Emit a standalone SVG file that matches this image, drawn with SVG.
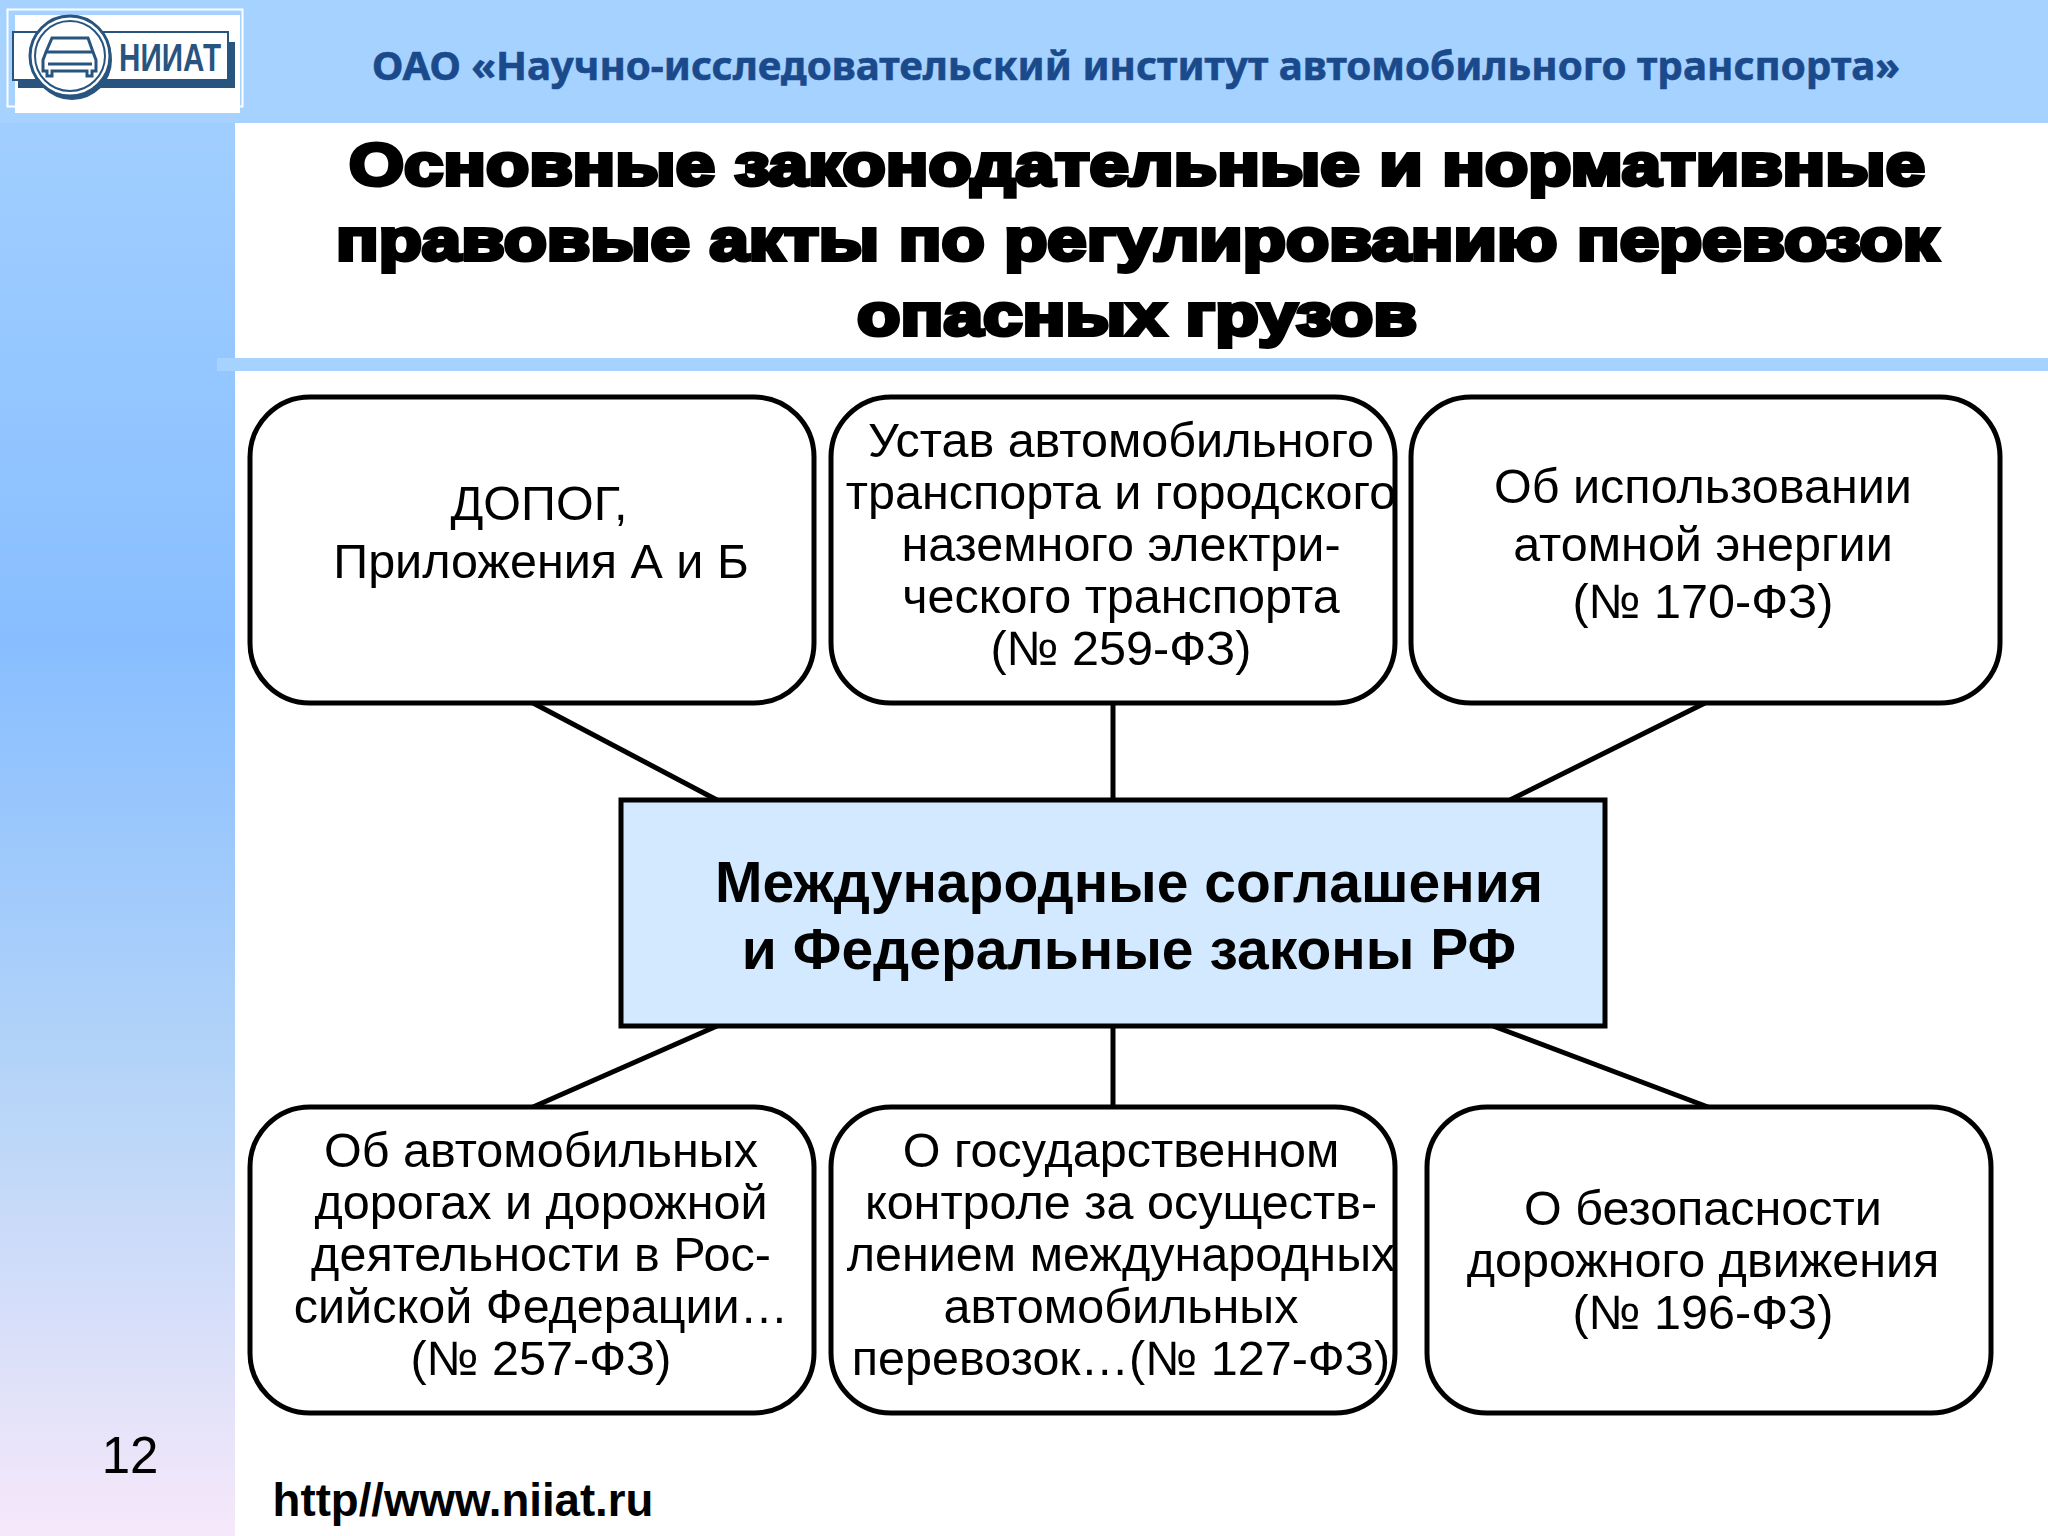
<svg xmlns="http://www.w3.org/2000/svg" width="2048" height="1536" viewBox="0 0 2048 1536">
<defs>
<linearGradient id="side" x1="0" y1="0" x2="0" y2="1">
<stop offset="0" stop-color="#a6d2ff"/><stop offset="0.42" stop-color="#88beff"/><stop offset="0.7" stop-color="#b4d4f8"/><stop offset="1" stop-color="#f6e8fa"/>
</linearGradient>
</defs>
<style>
text{font-family:"Liberation Sans",Arial,sans-serif;fill:#000;text-anchor:middle}
.b{fill:#fff;stroke:#000;stroke-width:5}
.c{fill:none;stroke:#000;stroke-width:5}
.t{font-size:48.500px}
.h{font-family:"Liberation Sans",sans-serif;font-weight:bold;font-size:60px;stroke:#000;stroke-width:4px}
.m{font-weight:bold;font-size:57px}
.l{fill:none;stroke:#28557f}
.lf{fill:#28557f}
</style>
<rect width="2048" height="1536" fill="#fff"/>
<rect x="0" y="0" width="235" height="1536" fill="url(#side)"/>
<rect x="0" y="0" width="2048" height="123" fill="#a6d2ff"/>
<rect x="217" y="358" width="1831" height="13" fill="#a6d2ff"/>
<g id="logo">
<rect x="7.500" y="9.500" width="235" height="97" fill="none" stroke="#fff" stroke-width="2"/>
<rect x="15" y="15" width="225" height="98" fill="#fff"/>
<rect x="18" y="42" width="217" height="46" class="lf"/>
<rect x="13" y="32" width="215" height="48" fill="#fff" stroke="#28557f" stroke-width="2"/>
<circle cx="72" cy="60" r="40" class="lf"/>
<circle cx="70" cy="56" r="40" fill="#fff" stroke="#28557f" stroke-width="3"/>
<circle cx="70" cy="56" r="35" class="l" stroke-width="2"/>
<path d="M52 38h36l5 14l3 8v11h-4v5h-5v-5H52v5h-5v-5h-4V60l3-8z" class="l" stroke-width="3"/>
<path d="M47 52h46M48 64h44" class="l" stroke-width="3"/>
<text x="170" y="71" style="font-size:38px;font-weight:bold;fill:#28557f" textLength="102" lengthAdjust="spacingAndGlyphs">НИИАТ</text>
</g>
<text id="org" x="1136" y="80" textLength="1528" lengthAdjust="spacingAndGlyphs" style="font-family:'Noto Sans',sans-serif;font-weight:bold;font-size:40px;fill:#1a4a8c;stroke:#1a4a8c;stroke-width:.6px">ОАО «Научно-исследовательский институт автомобильного транспорта»</text>
<g id="title">
<text class="h" x="1137" y="185" textLength="1576" lengthAdjust="spacingAndGlyphs">Основные законодательные и нормативные</text>
<text class="h" x="1137" y="260" textLength="1602" lengthAdjust="spacingAndGlyphs">правовые акты по регулированию перевозок</text>
<text class="h" x="1137" y="335" textLength="560" lengthAdjust="spacingAndGlyphs">опасных грузов</text>
</g>
<g id="connectors">
<path class="c" d="M533 703L717 800M1113 703V800M1705 703L1510 800M717 1026L533 1107M1113 1026V1107M1493 1026L1708 1107"/>
</g>
<g id="n1"><rect class="b" x="250" y="397" width="564" height="306" rx="60"/>
<text class="t" x="539" y="520">ДОПОГ,</text><text class="t" x="541" y="578">Приложения А и Б</text></g>
<g id="n2"><rect class="b" x="831" y="397" width="564" height="306" rx="60"/>
<text class="t" x="1121" y="457">Устав автомобильного</text><text class="t" x="1121" y="509">транспорта и городского</text><text class="t" x="1121" y="561">наземного электри-</text><text class="t" x="1121" y="613">ческого транспорта</text><text class="t" x="1121" y="665">(№ 259-ФЗ)</text></g>
<g id="n3"><rect class="b" x="1411" y="397" width="589" height="306" rx="60"/>
<text class="t" x="1703" y="503">Об использовании</text><text class="t" x="1703" y="561">атомной энергии</text><text class="t" x="1703" y="618">(№ 170-ФЗ)</text></g>
<g id="center"><rect x="621" y="800" width="984" height="226" fill="#d2e9ff" stroke="#000" stroke-width="5"/>
<text class="m" x="1129" y="902">Международные соглашения</text><text class="m" x="1129" y="969">и Федеральные законы РФ</text></g>
<g id="n4"><rect class="b" x="250" y="1107" width="564" height="306" rx="60"/>
<text class="t" x="541" y="1167">Об автомобильных</text><text class="t" x="541" y="1219">дорогах и дорожной</text><text class="t" x="541" y="1271">деятельности в Рос-</text><text class="t" x="541" y="1323">сийской Федерации…</text><text class="t" x="541" y="1375">(№ 257-ФЗ)</text></g>
<g id="n5"><rect class="b" x="831" y="1107" width="564" height="306" rx="60"/>
<text class="t" x="1121" y="1167">О государственном</text><text class="t" x="1121" y="1219">контроле за осуществ-</text><text class="t" x="1121" y="1271">лением международных</text><text class="t" x="1121" y="1323">автомобильных</text><text class="t" x="1121" y="1375">перевозок…(№ 127-ФЗ)</text></g>
<g id="n6"><rect class="b" x="1427" y="1107" width="564" height="306" rx="60"/>
<text class="t" x="1703" y="1225">О безопасности</text><text class="t" x="1703" y="1277">дорожного движения</text><text class="t" x="1703" y="1329">(№ 196-ФЗ)</text></g>
<text x="130" y="1473" style="font-size:51px">12</text>
<text x="463" y="1516" style="font-size:45.600px;font-weight:bold">http//www.niiat.ru</text>
</svg>
